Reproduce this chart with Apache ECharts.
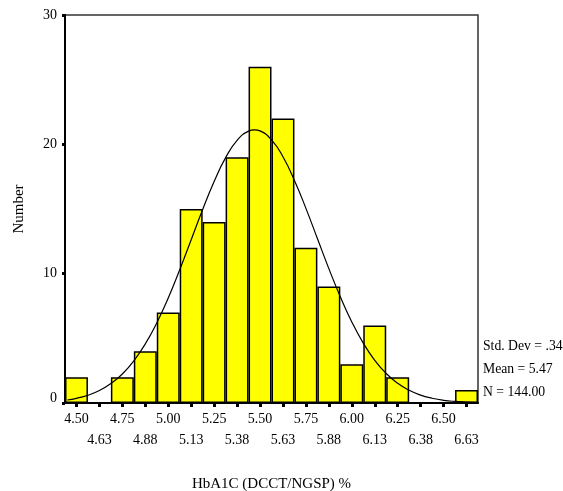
<!DOCTYPE html>
<html>
<head>
<meta charset="utf-8">
<script src="https://cdn.jsdelivr.net/npm/echarts@6/dist/echarts.min.js"></script>
<style>html,body{margin:0;padding:0;background:#fff}#c{width:563px;height:491px}</style>
</head>
<body>
<div id="c"></div>
<script>
const categories = ['4.50','4.63','4.75','4.88','5.00','5.13','5.25','5.38','5.50','5.63','5.75','5.88','6.00','6.13','6.25','6.38','6.50','6.63'];
const counts = [2,0,2,4,7,15,14,19,26,22,12,9,3,6,2,0,0,1];
const curveX = [4.45,4.5,4.5625,4.625,4.6875,4.75,4.8125,4.875,4.9375,5.0,5.0625,5.125,5.1875,5.25,5.3125,5.375,5.4375,5.47,5.5,5.5625,5.625,5.6875,5.75,5.8125,5.875,5.9375,6.0,6.0625,6.125,6.1875,6.25,6.3125,6.375,6.4375,6.5,6.5625,6.625,6.69];
const curveY = [0.23,0.36,0.60,0.96,1.50,2.24,3.26,4.57,6.19,8.12,10.30,12.62,14.96,17.13,18.97,20.31,21.02,21.12,21.04,20.35,19.04,17.21,15.05,12.72,10.39,8.21,6.27,4.63,3.30,2.28,1.52,0.98,0.61,0.37,0.21,0.12,0.07,0.03];
const yTicks = [0,10,20,30];
const statsLines = ['Std. Dev = .34','Mean = 5.47','N = 144.00'];

const FONT = 'Liberation Serif';
const chart = echarts.init(document.getElementById('c'), null, {renderer:'canvas'});
chart.setOption({
  animation:false,
  backgroundColor:'#fff',
  grid:{left:65,right:85,top:15,bottom:88,show:true,borderColor:'#333',borderWidth:1.5,backgroundColor:'transparent',
    containLabel:false, outerBoundsMode:'none'},
  xAxis:[{
    type:'category', data:categories, boundaryGap:true,
    axisLine:{lineStyle:{color:'#000',width:2}},
    axisTick:{show:true,alignWithLabel:true,length:4,lineStyle:{color:'#000',width:3}},
    axisLabel:{interval:0,margin:6,fontFamily:FONT,fontSize:14,color:'#000',lineHeight:21,
      formatter:function(v,i){return i%2? '\n'+v : v;}},
    name:'HbA1C (DCCT/NGSP) %', nameLocation:'middle', nameGap:74,
    nameTextStyle:{fontFamily:FONT,fontSize:15,color:'#000'},
    splitLine:{show:false}
  },{
    type:'value', min:4.4375, max:6.6875, show:false
  }],
  yAxis:{
    type:'value', min:0, max:30, interval:10,
    axisLine:{show:true,lineStyle:{color:'#000',width:2}},
    axisTick:{show:true,length:3,lineStyle:{color:'#000',width:3}},
    axisLabel:{margin:8,fontFamily:FONT,fontSize:14,color:'#000',
      rich:{z:{fontFamily:FONT,fontSize:14,color:'#000',padding:[0,0,10,0]}},
      formatter:function(v){ if(v===0) return '{z|0}'; return yTicks.indexOf(v)>=0? String(v):'';}},
    splitLine:{show:false},
    name:'Number', nameLocation:'middle', nameGap:38, nameRotate:90,
    nameTextStyle:{fontFamily:FONT,fontSize:15,color:'#000'}
  },
  series:[{
    type:'bar', data:counts, xAxisIndex:0, barWidth:'100%',
    itemStyle:{color:'#ffff00',borderColor:'#000',borderWidth:1.5}
  },{
    type:'line', xAxisIndex:1, data:curveX.map((x,i)=>[x,curveY[i]]),
    showSymbol:false, smooth:true, lineStyle:{color:'#000',width:1.2}, z:5
  }],
  graphic: statsLines.map((t,i)=>({
    type:'text', left:483, top:339+i*23,
    style:{text:t, font:'13.7px "'+FONT+'"', fill:'#000'}
  }))
});
</script>
</body>
</html>
